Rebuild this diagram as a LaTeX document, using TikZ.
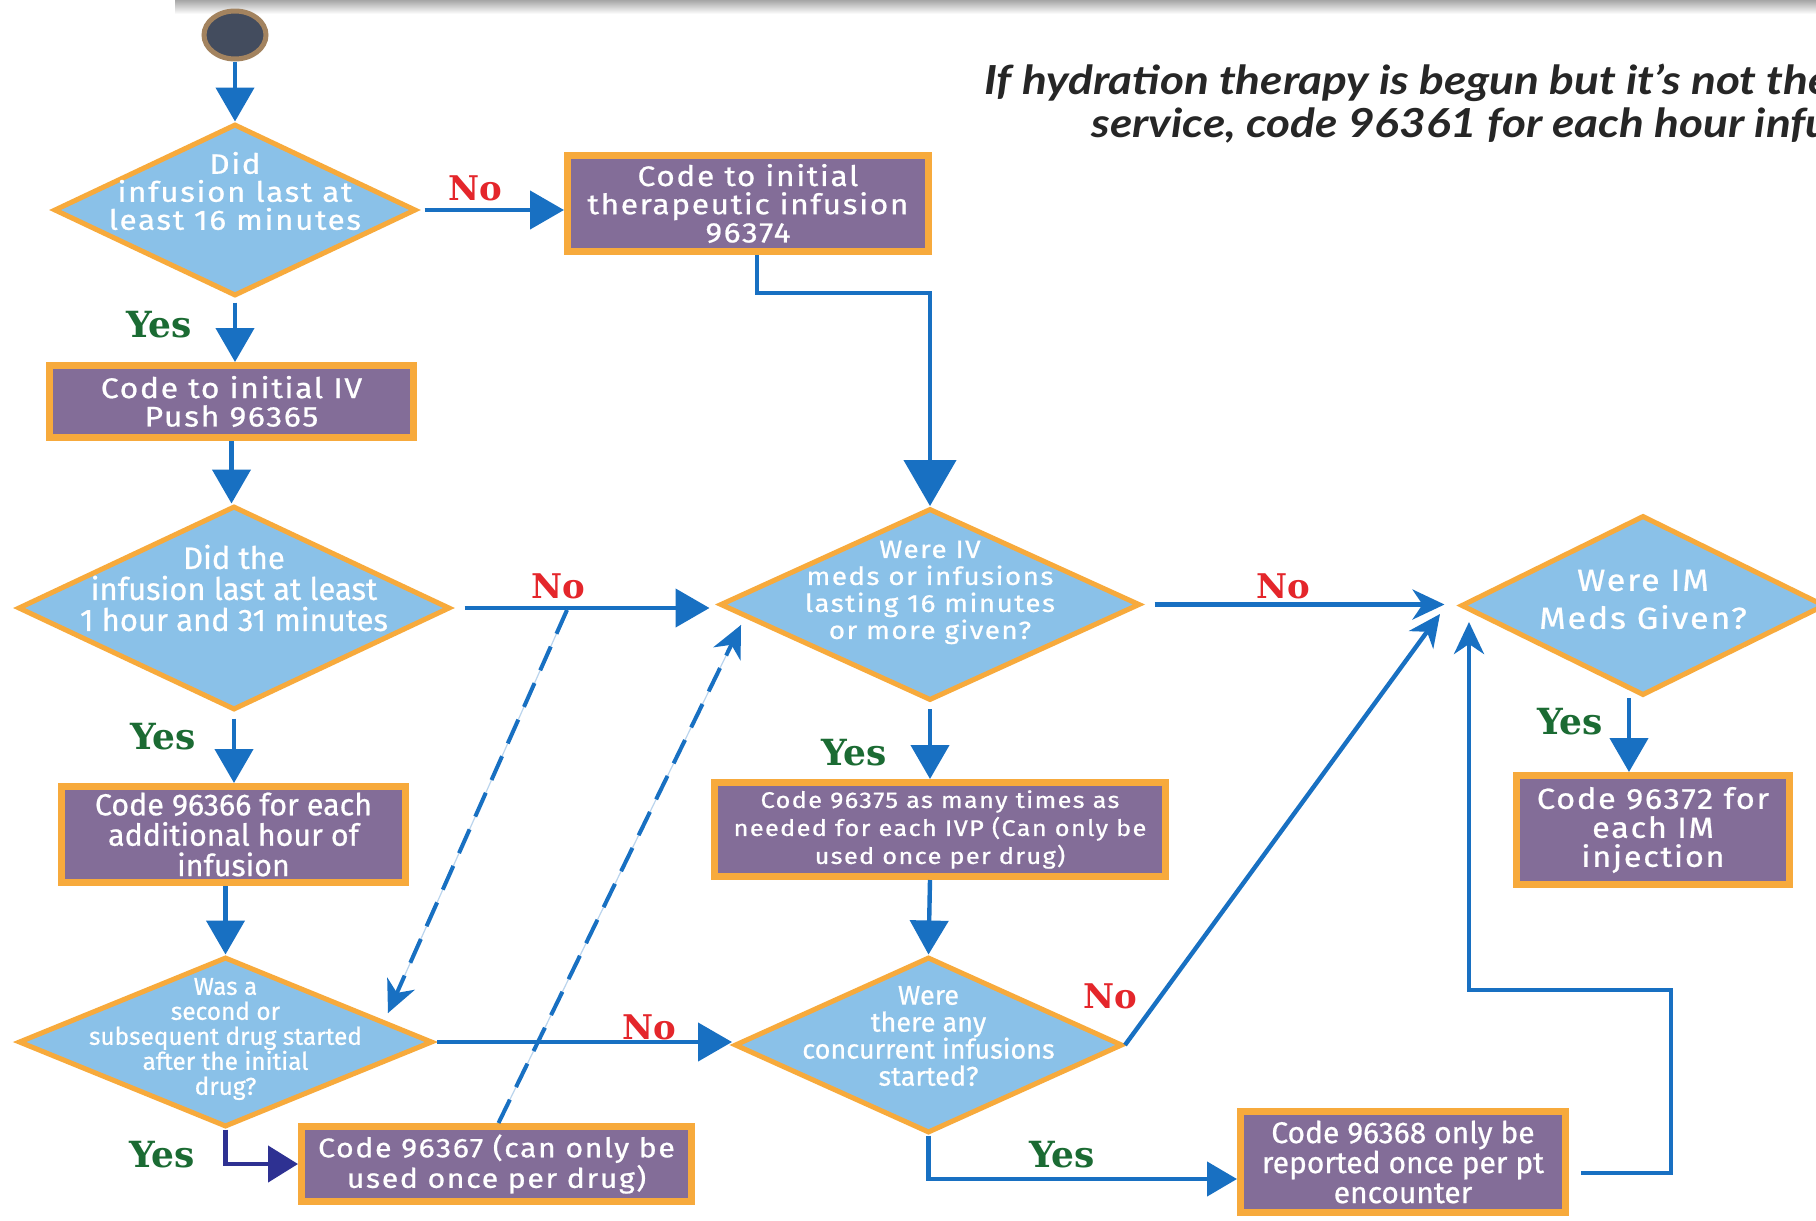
\documentclass[tikz,border=0pt]{standalone}
\usepackage{fontspec}
\setmainfont{Fira Sans}
\newfontfamily\wf[LetterSpace=6,FakeStretch=1.12,FakeBold=0.8]{Fira Sans}
\newfontfamily\cf[FakeBold=0.7]{Fira Sans}
\newfontfamily\lf{DejaVu Serif}
\newfontfamily\nf[FakeStretch=1.15]{Lato}
\usetikzlibrary{shapes.geometric,arrows.meta,calc}
\definecolor{cblue}{HTML}{1870C2}
\definecolor{dfill}{HTML}{8AC1E8}
\definecolor{obord}{HTML}{F7AA3C}
\definecolor{bpurp}{HTML}{836D98}
\definecolor{ynavy}{HTML}{2E3192}
\definecolor{ygreen}{HTML}{1B6B33}
\definecolor{nred}{HTML}{E4262B}
\definecolor{cdark}{HTML}{434C5E}
\definecolor{cring}{HTML}{A3835F}
\tikzset{
  dia/.style={diamond, draw=obord, line width=2.5pt, fill=dfill, inner sep=0pt},
  codebox/.style={rectangle, draw=obord, line width=3.5pt, fill=bpurp, text=white, align=center, inner sep=0pt},
  dtxt/.style={text=white, align=center, inner sep=0pt},
  conn/.style={draw=cblue, line width=2.2pt},
  tipT/.style={-{Triangle[length=17pt,width=19pt]}},
  tipB/.style={-{Triangle[length=23pt,width=26pt]}},
  tipS/.style={-{Stealth[length=16pt,width=15pt,inset=5pt]}},
  dashc/.style={draw=cblue, line width=2pt, dash pattern=on 13pt off 7pt},
  faint/.style={draw=cblue!30, line width=0.6pt},
  yeslbl/.style={text=ygreen, font=\lf\bfseries\fontsize{18}{18}\selectfont, inner sep=0pt},
  nolbl/.style={text=nred, font=\lf\bfseries\fontsize{17}{17}\selectfont, inner sep=0pt},
  notetxt/.style={anchor=west, inner sep=0pt, text=black!85, font=\nf\bfseries\itshape\fontsize{20}{20}\selectfont},
}
\begin{document}
\begin{tikzpicture}[x=0.5pt,y=-0.5pt]
\clip (0,0) rectangle (1816,1221);
\fill[white] (0,0) rectangle (1816,1221);
\shade[top color=gray!70, bottom color=white] (175,0) rectangle (1816,14);

% nodes
\node[ellipse, draw=cring, line width=2.5pt, fill=cdark, minimum width=31pt, minimum height=24pt, inner sep=0pt] (start) at (235,35) {};

\node[dia, minimum width=181pt, minimum height=86pt] (d1) at (235,210) {};
\node[dtxt, font=\wf\fontsize{14}{14}\selectfont] (d1t) at ([yshift=9.5pt]d1.center) {Did\\infusion last at\\least 16 minutes};

\node[codebox, minimum width=180.5pt, minimum height=48pt, font=\wf\fontsize{14.1}{14.1}\selectfont] (b1) at (748,203.5) {Code to initial\\therapeutic infusion\\96374};

\node[codebox, minimum width=182pt, minimum height=36pt, font=\wf\fontsize{14.2}{14.2}\selectfont] (b2) at (231.5,401.5) {Code to initial IV\\Push 96365};

\node[dia, minimum width=216pt, minimum height=102pt] (d2) at (234,608) {};
\node[dtxt, font=\cf\fontsize{15.5}{15.5}\selectfont] (d2t) at ([yshift=10pt]d2.center) {Did the\\infusion last at least\\1 hour and 31 minutes};

\node[dia, minimum width=210pt, minimum height=96pt] (d3) at (930,604.5) {};
\node[dtxt, font=\wf\fontsize{12.4}{13.5}\selectfont] (d3t) at ([yshift=6pt]d3.center) {Were IV\\meds or infusions\\lasting 16 minutes\\or more given?};

\node[dia, minimum width=182pt, minimum height=90pt] (dim) at (1643,605.5) {};
\node[dtxt, font=\wf\fontsize{15.2}{19}\selectfont] (dimt) at ([yshift=3pt]dim.center) {Were IM\\Meds Given?};

\node[codebox, minimum width=172pt, minimum height=48pt, font=\cf\fontsize{15.2}{15.2}\selectfont] (b4) at (233.5,834.5) {Code 96366 for each\\additional hour of\\infusion};

\node[codebox, minimum width=225.5pt, minimum height=47pt, font=\wf\fontsize{11.3}{14}\selectfont] (b3) at (940,829.5) {Code 96375 as many times as\\needed for each IVP (Can only be\\used once per drug)};

\node[codebox, minimum width=136.5pt, minimum height=54.5pt, font=\wf\fontsize{14.5}{14.5}\selectfont] (b7) at (1653,830) {Code 96372 for\\each IM\\injection};

\node[dia, minimum width=207pt, minimum height=85pt] (d4) at (225.5,1042) {};
\node[dtxt, font=\cf\fontsize{12.2}{12.5}\selectfont] (d4t) at ([yshift=1.5pt]d4.center) {Was a\\second or\\subsequent drug started\\after the initial\\drug?};

\node[dia, minimum width=194pt, minimum height=88pt] (d5) at (928.5,1045) {};
\node[dtxt, font=\cf\fontsize{13.5}{13.5}\selectfont] (d5t) at ([yshift=4.5pt]d5.center) {Were\\there any\\concurrent infusions\\started?};

\node[codebox, minimum width=195pt, minimum height=37.5pt, font=\wf\fontsize{13.5}{13.5}\selectfont] (b5) at (496.5,1164) {Code 96367 (can only be\\used once per drug)};

\node[codebox, minimum width=162.5pt, minimum height=50.5pt, font=\cf\fontsize{15}{15}\selectfont] (b6) at (1403,1162) {Code 96368 only be\\reported once per pt\\encounter};

\node[notetxt] (note1) at (984,83) {If hydration therapy is begun but it’s not the};
\node[notetxt] (note2) at (1091,125) {service, code 96361 for each hour infused};

% coordinates
\coordinate (dsA) at (567,610);
\coordinate (dsB) at (388,1013);
\coordinate (dsC) at (741,625);
\coordinate (imB) at (1440,614);
\coordinate (lp1) at (1671,990);
\coordinate (lp2) at (1469,990);
\coordinate (imC) at (1469,622);

% connectors
\draw[conn,tipT] (start.south) -- (d1.north);
\draw[conn,tipT,shorten <=3pt] (d1.east) -- (d1.east -| b1.west);
\node[nolbl] (no1) at (475,188) {No};
\draw[conn,tipB] ([xshift=4.5pt]b1.south) -- ++(0,38) -| (d3.north);
\draw[conn,tipT,shorten <=2pt] (d1.south) -- (d1.south |- b2.north);
\node[yeslbl] (y1) at (159,325) {Yes};
\draw[conn,tipT] (b2.south) -- (b2.south |- d2.north);
\draw[conn,tipT,shorten <=3pt] (d2.south) -- (d2.south |- b4.north);
\node[yeslbl] (y2) at (163,737) {Yes};
\draw[conn,tipT] (d4.north |- b4.south) -- (d4.north);
\draw[conn,tipT,shorten <=6pt,shorten >=4pt] (d2.east) -- (d2.east -| d3.west);
\node[nolbl] (no2) at (558,586) {No};
\draw[faint] (dsA) -- (dsB);
\draw[dashc,tipS] (dsA) -- (dsB);
\draw[faint] ([xshift=1pt]b5.north) -- (dsC);
\draw[dashc,tipS] ([xshift=1pt]b5.north) -- (dsC);
\draw[conn,tipT,shorten <=3pt] (d3.south) -- (d3.south |- b3.north);
\node[yeslbl] (y3) at (854,753) {Yes};
\draw[conn,tipT] (d3.south |- b3.south) -- (d5.north);
\draw[conn,tipT,shorten <=1pt] (d4.east) -- (d4.east -| d5.west);
\node[nolbl] (no3) at (649,1027) {No};
\draw[draw=ynavy,line width=2.2pt,-{Triangle[length=15pt,width=18pt]}] (d4.south) |- (b5.west);
\node[yeslbl] (y4) at (162,1155) {Yes};
\draw[conn,-{Triangle[length=15pt,width=17pt]}] (d5.south) |- ([yshift=-8.5pt]b6.west);
\node[yeslbl] (y5) at (1062,1155) {Yes};
\draw[conn,tipS,shorten <=6pt,shorten >=7pt] (d3.east) -- (d3.east -| dim.west);
\node[nolbl] (no4) at (1283,586) {No};
\draw[conn,tipS] (d5.east) -- (imB);
\node[nolbl] (no5) at (1110,996) {No};
\draw[conn,tipS] ([xshift=6pt,yshift=-5.5pt]b6.east) -| (lp1) -- (lp2) -- (imC);
\draw[conn,tipT] ([xshift=-7pt]dim.south) -- ([xshift=-12pt]b7.north);
\node[yeslbl] (y6) at (1570,722) {Yes};
\end{tikzpicture}
\end{document}
